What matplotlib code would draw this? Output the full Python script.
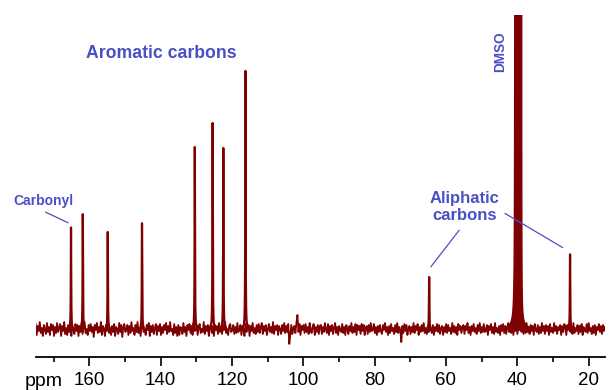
import numpy as np
import matplotlib.pyplot as plt

plt.rcParams['font.family'] = ['Liberation Sans', 'DejaVu Sans']

# 13C NMR peaks (ppm, height)
peak_ppm = [165.1, 161.8, 154.8, 145.2, 130.4, 125.4, 122.4, 116.2, 64.7, 25.2]
peak_height = [102, 115, 97, 106, 182, 206, 181, 259, 52, 75]

# DMSO-d6 septet
dmso_ppm = [40.6, 40.3, 40.0, 39.7, 39.4, 39.1, 38.8]
dmso_height = [4000, 4000, 4000, 4000, 3500, 1500, 800]

# baseline noise, left (175 ppm) to right (15.4 ppm)
noise = [
    5, -6, 3, -2, 7, -4, 1, -7, 4, 0, -5, 6, -3, 2, -6, 5, -1, 4, -7, 2,
    -4, 6, -3, 1, 5, -7, 3, -2, 7, -5, 1, -6, 4, -3, 6, -7, 2, 0, -5, 5,
    -2, 4, -7, 3, -3, 6, -5, 1, 7, -4, 0, -6, 4, -2, 5, -3, 2, -8, 4, -1,
    6, -4, 2, -3, 7, -6, 3, 0, -7, 4, -2, 8, -4, 1, -6, 3, -3, 5, -7, 2,
    0, -5, 6, -3, 4, -8, 2, 5, -3, -1, 4, -6, 3, -4, 7, -2, 1, -6, 4, -3,
    7, -4, 1, -7, 3, 5, -3, 0, -6, 4, -1, 6, -7, 3, -3, 4, -5, 1, 5, -6,
    3, -2, 5, -6, 2, -4, 4, -1, 6, -5, 3, -3, 7, -2, 0, -6, 5, -4, 2, -7,
    4, -6, 2, 1, -5, 6, -3, 2, -7, 4, -1, 5, -4, 3, -6, 6, -2, -1, 4, -6,
    2, 5, -4, 0, -3, 7, -5, 3, -2, 4, -7, 1, 5, -4, 3, -7, 4, -1, 3, -5,
    6, -3, 2, -5, 4, -1, 7, -4, 0, -6, 3, 5, -3, -1, 4, -5, 2, -4, 6, -3,
    -1, 4, -6, 3, 0, -7, 5, -3, 2, 4, -7, 3, -2, 6, -4, 1, -5, 4, -3, 5,
    -4, 2, 6, -5, 3, -2, 4, -6, 0, 5, -3, 2, -4, 7, -5, 3, -1, 4, -6, 3,
    0, -5, 4, -2, 6, -4, 3, -3, 5, -15, -6, 4, -5, 1, 3, -4, 6, 14, -3, 5,
    -6, 3, -1, 4, -4, 5, -3, 2, -5, 6, -2, -4, 3, 5, -6, 2, -3, 4, -5, 3,
    4, -5, 2, -3, 6, -1, -4, 5, -6, 3, -2, 4, -5, 1, 6, -4, 2, -6, 3, -1,
    -3, 5, -4, 2, -6, 4, 0, -5, 3, -2, 6, -4, 2, -3, 5, -6, 4, -1, 3, -5,
    5, -2, 4, -6, 1, 3, -5, 4, -3, 6, -2, -1, 5, -4, 2, -6, 3, -3, 4, -2,
    -5, 4, -1, 6, -3, 2, -6, 3, -4, 5, -2, 1, -5, 4, -3, 6, -4, 2, -1, -13,
    3, -4, 5, -2, 4, -6, 1, 3, -5, 2, -3, 6, -4, 3, -1, 5, -6, 2, -3, 4,
    -2, 6, -4, 1, -5, 3, -3, 5, -1, -4, 4, -6, 2, -2, 5, -3, 4, -5, 1, 3,
    -6, 2, -3, 5, -4, 4, -2, 1, -5, 6, -3, 3, -4, 2, -6, 5, -1, 3, -4, 2,
    4, -5, 3, -1, 6, -4, 2, -6, 3, -2, 5, -3, 1, -5, 4, -2, 6, -4, 2, -3,
    5, -3, -2, 4, -6, 3, -1, 5, -4, 2, -5, 6, -3, 1, -4, 3, -6, 4, -2, 5,
    -4, 3, -5, 2, 6, -3, 1, -4, 5, -6, 3, -2, 4, -5, 2, -1, 6, -3, 3, -5,
    2, -4, 6, -3, 1, -5, 4, -2, 3, -6, 5, -1, -3, 4, -5, 2, -4, 6, -2, 3,
    -5, 4, -2, 3, -6, 5, -3, 1, -4, 6, -2, 3, -5, 2, -1, 4, -6, 3, -3, 5,
    3, -6, 4, -1, 5, -3, 2, -5, 6, -4, 1, -2, 4, -5, 3, -3, 5, -6, 2, -1,
    -3, 5, -4, 6, -2, 1, -5, 3, -4, 4, -6, 2, -1, 5, -3, 3, -5, 4, -2, 2,
]

red = '#7f0000'
blue = '#4b4fc6'

fig = plt.figure(figsize=(6.14, 3.9), dpi=100)
ax = fig.add_axes([35.7 / 614, 33 / 390, (605 - 35.7) / 614, 342 / 390])

x = np.linspace(175, 15.4, 16000)
spec = np.zeros_like(x)
for p, h in zip(peak_ppm, peak_height):
    spec += h * 0.06**2 / ((x - p)**2 + 0.06**2)
dmso = np.zeros_like(x)
for p, h in zip(dmso_ppm, dmso_height):
    dmso += h * 0.03**2 / ((x - p)**2 + 0.03**2)
spec[spec < 1.5] = np.nan

ax.plot(np.linspace(175, 15.4, len(noise)), noise, color=red, lw=1.3)
ax.plot(x, spec, color=red, lw=1.6)
ax.fill_between(x, 0, dmso, where=dmso > 2, color=red, lw=1.0)

ax.set_xlim(175, 15.4)
ax.set_ylim(-28, 314)
for s in ['left', 'right', 'top']:
    ax.spines[s].set_visible(False)
ax.spines['bottom'].set_linewidth(1.3)
ax.set_yticks([])
ax.set_xticks(range(160, 19, -20))
ax.set_xticks(range(170, 29, -20), minor=True)
ax.tick_params(axis='x', which='major', length=6.5, width=1.2, labelsize=13.5, pad=4)
ax.tick_params(axis='x', which='minor', length=3.6, width=1.2)

fig.text(44 / 614, 4 / 390, 'ppm', fontsize=14, ha='center', va='baseline')

# labels
ax.text(139.9, 275, 'Aromatic carbons', color=blue, fontsize=12.7, fontweight='bold',
        ha='center', va='center')
ax.text(172.7, 128, 'Carbonyl', color=blue, fontsize=10, fontweight='bold',
        ha='center', va='center')
ax.text(44.9, 277, 'DMSO', color=blue, fontsize=9.8, fontweight='bold',
        rotation=90, ha='center', va='center')
ax.text(54.7, 122, 'Aliphatic\ncarbons', color=blue, fontsize=12, fontweight='bold',
        ha='center', va='center', linespacing=1.15)

line = dict(arrowstyle='-', color=blue, lw=0.9)
ax.annotate('', xy=(165.2, 105), xytext=(172.9, 118), arrowprops=line)
ax.annotate('', xy=(64.7, 60), xytext=(55.8, 101), arrowprops=line)
ax.annotate('', xy=(26.6, 80), xytext=(44.1, 117), arrowprops=line)

fig.savefig('out.png', dpi=100)
